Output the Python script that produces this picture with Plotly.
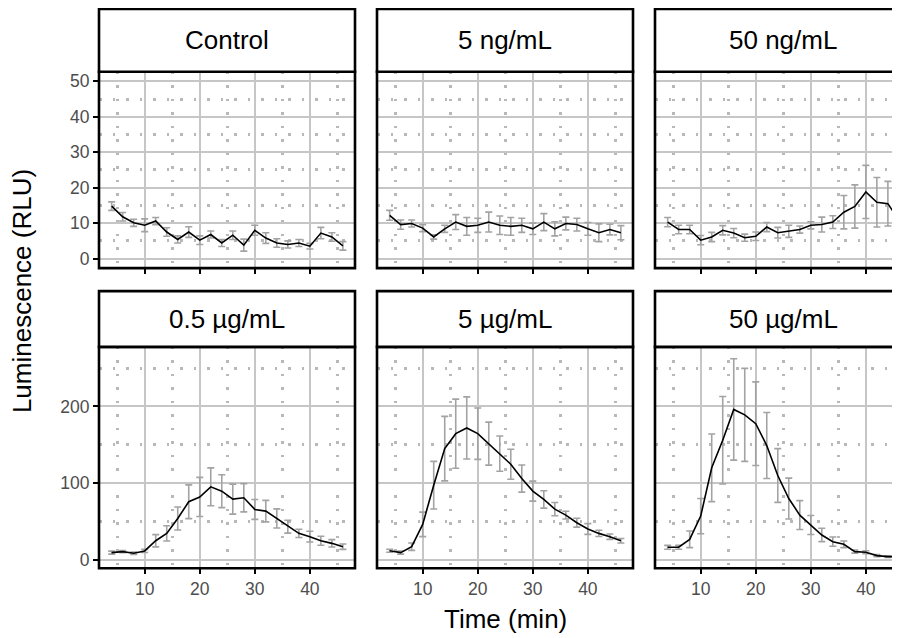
import plotly.graph_objects as go

# ---------------- data ----------------
time_min = [4, 6, 8, 10, 12, 14, 16, 18, 20, 22, 24, 26, 28, 30, 32, 34, 36, 38, 40, 42, 44, 46]

panel_titles = ["Control", "5 ng/mL", "50 ng/mL", "0.5 µg/mL", "5 µg/mL", "50 µg/mL"]

control_mean = [14.8, 11.8, 10.1, 9.4, 10.6, 7.5, 5.4, 7.5, 5.2, 6.8, 4.4, 6.6, 3.8, 8.0, 5.8, 4.4, 4.0, 4.4, 3.5, 7.2, 6.1, 3.6]
control_err = [1.2, 1.2, 1.0, 1.8, 1.0, 1.2, 1.0, 1.5, 1.2, 1.0, 1.0, 1.2, 1.7, 1.4, 1.5, 1.2, 1.0, 1.0, 0.8, 1.6, 1.2, 1.2]

ng5_mean = [12.2, 9.6, 9.9, 8.6, 6.1, 8.4, 10.3, 9.1, 9.4, 10.3, 9.4, 9.1, 9.4, 8.4, 10.3, 8.4, 9.9, 9.6, 8.4, 7.3, 8.2, 7.3]
ng5_err = [1.4, 1.3, 1.0, 1.0, 0.6, 1.0, 2.1, 2.5, 2.0, 2.8, 2.6, 2.5, 2.0, 1.6, 2.4, 2.0, 1.8, 1.8, 1.8, 2.5, 1.5, 2.0]

ng50_mean = [10.3, 8.2, 8.2, 5.2, 6.1, 8.0, 7.2, 5.9, 6.3, 8.9, 7.3, 7.7, 8.2, 9.4, 9.6, 10.3, 13.1, 14.7, 18.8, 15.9, 15.5, 10.8]
ng50_err = [1.3, 1.2, 1.2, 1.3, 1.3, 1.3, 1.3, 1.0, 1.2, 1.3, 1.5, 1.7, 1.0, 1.0, 2.1, 1.8, 4.7, 6.1, 7.5, 7.0, 6.3, 4.0]

ug05_mean = [9.5, 10.8, 8.7, 11.7, 25.0, 34.6, 54.0, 75.8, 82.0, 95.2, 89.6, 79.2, 81.0, 65.8, 63.6, 54.0, 43.3, 34.6, 30.3, 25.0, 21.6, 17.3]
ug05_err = [2.0, 1.5, 1.5, 2.0, 8.0, 10.0, 15.0, 22.0, 25.5, 24.7, 21.4, 19.5, 18.4, 13.0, 14.0, 12.5, 8.4, 5.4, 7.0, 5.8, 4.8, 3.5]

ug5_mean = [12.0, 9.5, 17.3, 46.3, 97.4, 145.0, 164.5, 171.9, 164.5, 151.5, 138.5, 124.7, 106.0, 89.6, 78.8, 66.2, 58.4, 48.5, 40.3, 34.6, 30.3, 25.0]
ug5_err = [2.0, 2.0, 4.8, 16.0, 31.0, 42.0, 45.0, 40.5, 33.5, 28.0, 23.0, 19.5, 17.7, 13.0, 11.3, 8.7, 5.0, 5.8, 7.0, 4.0, 3.5, 3.0]

ug50_mean = [16.5, 16.5, 26.8, 57.1, 120.0, 156.0, 196.0, 189.0, 177.5, 149.0, 110.0, 80.0, 58.4, 45.5, 32.5, 23.8, 20.3, 10.8, 10.0, 5.6, 4.3, 4.3]
ug50_err = [2.5, 2.5, 10.8, 23.0, 44.0, 57.0, 66.0, 60.6, 54.5, 43.0, 35.0, 26.6, 18.8, 12.3, 8.7, 6.0, 4.3, 2.0, 2.0, 1.5, 1.0, 1.0]

means = [control_mean, ng5_mean, ng50_mean, ug05_mean, ug5_mean, ug50_mean]
errs = [control_err, ng5_err, ng50_err, ug05_err, ug5_err, ug50_err]

x_ticks = [10, 20, 30, 40]
y_ticks_top = [0, 10, 20, 30, 40, 50]
y_ticks_bottom = [0, 100, 200]

# ---------------- layout geometry (page pixels) ----------------
OFF = 8                      # default page margin around the plot div
W, H = 900 - OFF, 638 - OFF
col_px = [(99, 355), (377, 633), (655, 911)]
row_px = [(72, 269), (348, 570)]          # panel top, bottom
strip_px = [(9, 72), (292, 348)]          # strip top, bottom
x_px_per_unit = (355 - 99) / (48.2 - 1.7)
y_ranges = [[-2.7, 52.7], [-10.8, 277.5]]

def px(x):
    return (x - OFF) / W

def py(y):
    return 1 - (y - OFF) / H

fig = go.Figure()
layout = dict(
    width=W, height=H,
    margin=dict(l=0, r=0, t=0, b=0),
    paper_bgcolor="white", plot_bgcolor="white",
    showlegend=False,
    font=dict(family="Liberation Sans, Arial, sans-serif", color="black"),
)

MAJOR = "#c6c6c6"
MINOR = "#b8b8b8"
DOTS = "2.5px,11px"
shapes = []
annotations = []

for i in range(6):
    r, c = divmod(i, 3)
    n = i + 1
    xa = "xaxis" if n == 1 else f"xaxis{n}"
    ya = "yaxis" if n == 1 else f"yaxis{n}"
    xr = "x" if n == 1 else f"x{n}"
    yr = "y" if n == 1 else f"y{n}"
    x0p, x1p = col_px[c]
    x1_vis = min(x1p, 900)
    xmax = 1.7 + (x1_vis - x0p) / x_px_per_unit
    top, bot = row_px[r]

    layout[xa] = dict(
        domain=[px(x0p), min(px(x1_vis), 1.0)], anchor=yr, range=[1.7, xmax],
        tickvals=x_ticks, ticktext=[str(v) for v in x_ticks],
        showticklabels=(r == 1), ticks="outside", ticklen=5, tickwidth=1.5, tickcolor="black",
        tickfont=dict(size=17.5, color="#4d4d4d"),
        showgrid=True, gridcolor=MAJOR, gridwidth=1.5, zeroline=False, showline=False,
        minor=dict(tick0=5, dtick=10, showgrid=True, gridcolor=MINOR, gridwidth=2.5,
                   griddash=DOTS, ticks=""),
    )
    yt = y_ticks_top if r == 0 else y_ticks_bottom
    layout[ya] = dict(
        domain=[py(bot), py(top)], anchor=xr, range=y_ranges[r],
        tickvals=yt, ticktext=[str(v) for v in yt],
        showticklabels=(c == 0), ticks=("outside" if c == 0 else ""), ticklen=5, tickwidth=1.5,
        tickcolor="black", tickfont=dict(size=17.5, color="#4d4d4d"),
        showgrid=True, gridcolor=MAJOR, gridwidth=1.5, zeroline=False, showline=False,
        minor=dict(tick0=(5 if r == 0 else 50), dtick=(10 if r == 0 else 100), showgrid=True,
                   gridcolor=MINOR, gridwidth=2.5, griddash=DOTS, ticks=""),
    )

    # error bars (drawn under the line)
    fig.add_trace(go.Scatter(
        x=time_min, y=means[i], mode="lines", xaxis=xr, yaxis=yr,
        line=dict(width=0, color="rgba(0,0,0,0)"),
        error_y=dict(type="data", array=errs[i], visible=True, color="#a3a3a3",
                     thickness=1.6, width=3.5),
        hoverinfo="skip",
    ))
    fig.add_trace(go.Scatter(
        x=time_min, y=means[i], mode="lines", xaxis=xr, yaxis=yr,
        line=dict(width=1.6, color="black"), name=panel_titles[i],
    ))

    # panel border
    shapes.append(dict(type="rect", xref="paper", yref="paper",
                       x0=px(x0p), x1=px(x1p), y0=py(bot), y1=py(top),
                       line=dict(color="black", width=2.6), fillcolor="rgba(0,0,0,0)", layer="above"))
    # strip
    s0, s1 = strip_px[r]
    shapes.append(dict(type="rect", xref="paper", yref="paper",
                       x0=px(x0p), x1=px(x1p), y0=py(s1), y1=py(s0),
                       line=dict(color="black", width=2.6), fillcolor="white", layer="above"))
    annotations.append(dict(text=panel_titles[i], xref="paper", yref="paper",
                            x=px((x0p + x1p) / 2), y=py((s0 + s1) / 2),
                            xanchor="center", yanchor="middle", showarrow=False,
                            font=dict(size=26, color="black")))

annotations.append(dict(text="Time (min)", xref="paper", yref="paper",
                        x=px(505), y=py(621), xanchor="center", yanchor="middle",
                        showarrow=False, font=dict(size=26, color="black")))
annotations.append(dict(text="Luminescence (RLU)", xref="paper", yref="paper",
                        x=px(22), y=py(292), xanchor="center", yanchor="middle",
                        textangle=-90, showarrow=False, font=dict(size=26, color="black")))

layout["shapes"] = shapes
layout["annotations"] = annotations
fig.update_layout(**layout)

fig.write_html("out.html")
